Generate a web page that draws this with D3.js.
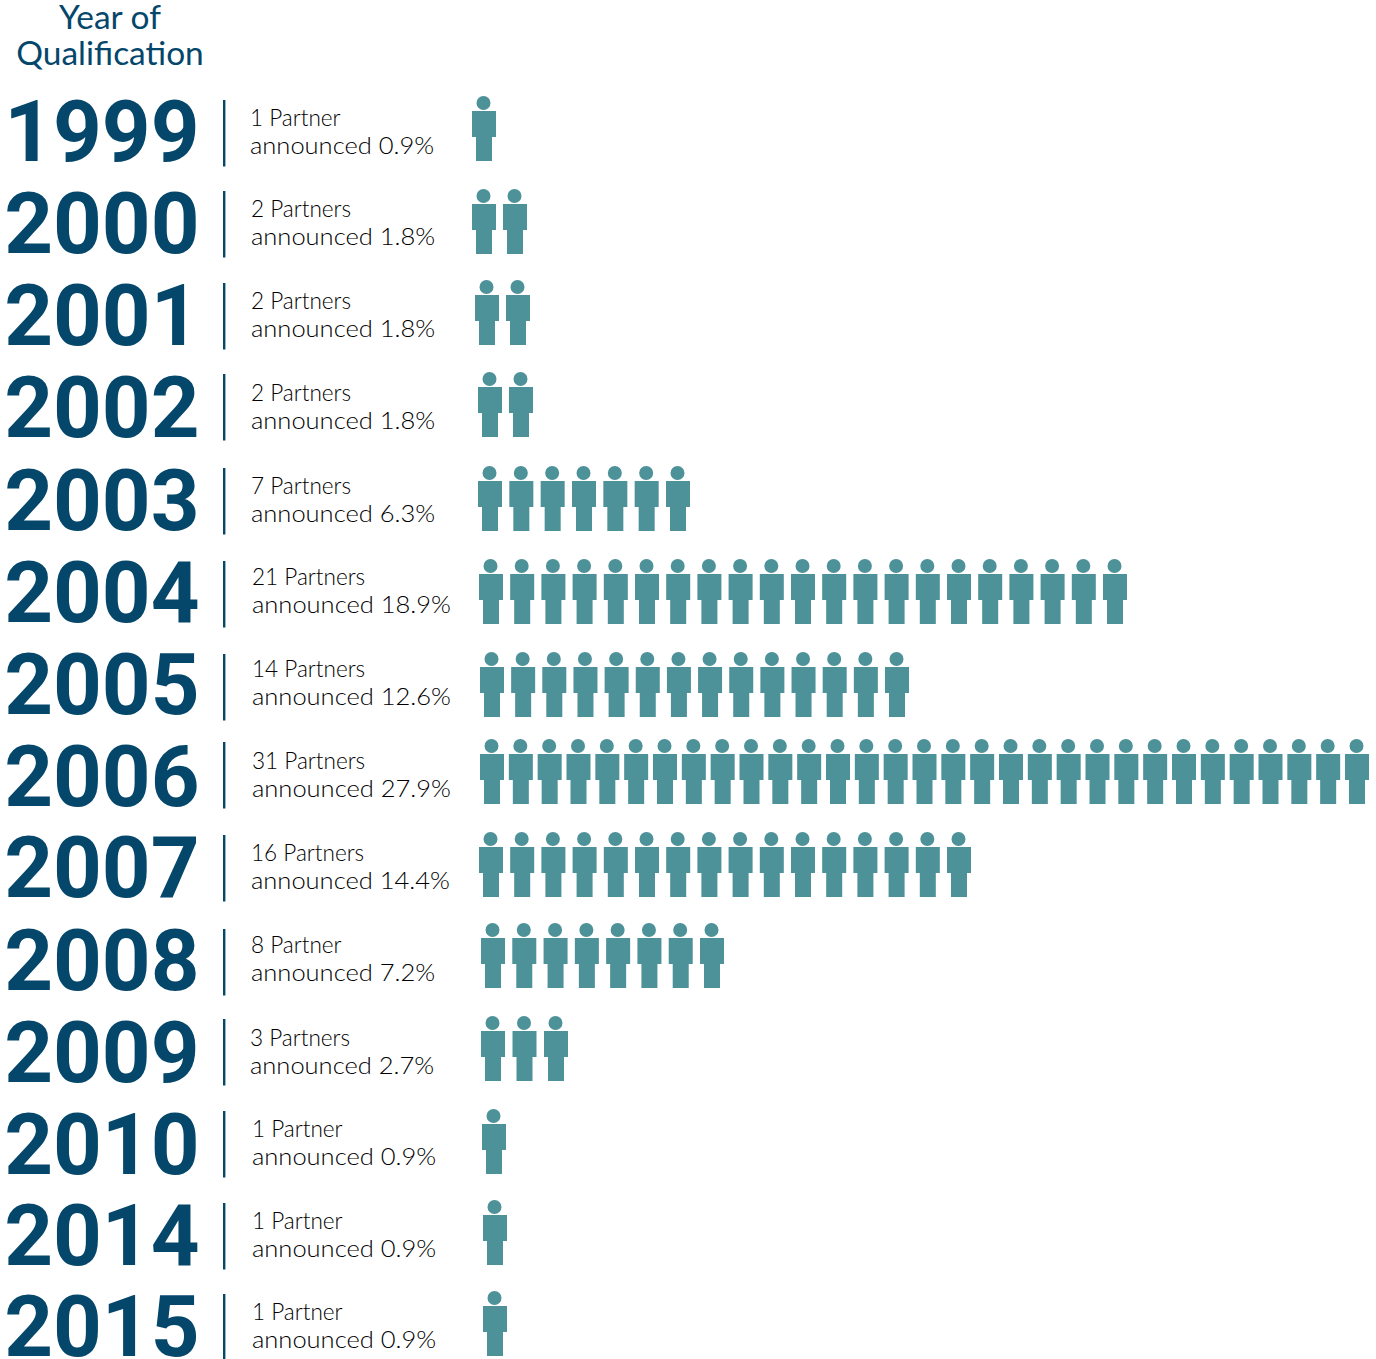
<!DOCTYPE html>
<html>
<head>
<meta charset="utf-8">
<script src="https://cdn.jsdelivr.net/npm/d3@7/dist/d3.min.js"></script>
<style>
html,body{margin:0;padding:0;background:#fff}
svg{display:block}
</style>
</head>
<body>
<svg id="chart" width="1376" height="1359"></svg>
<script>
// Qualification-year cohorts
const years = [1999,2000,2001,2002,2003,2004,2005,2006,2007,2008,2009,2010,2014,2015];
const partners = [1,2,2,2,7,21,14,31,16,8,3,1,1,1];
const shares = ["0.9","1.8","1.8","1.8","6.3","18.9","12.6","27.9","14.4","7.2","2.7","0.9","0.9","0.9"];
const partnerWords = ["Partner","Partners","Partners","Partners","Partners","Partners","Partners","Partners","Partners","Partner","Partners","Partner","Partner","Partner"];

// Hand-set row layout of the infographic
const rowBottoms = [161,254,345,437,531,624,717,804,897,988,1081,1174,1265,1356];
const rowFirstX = [472,472,475,478,478,479,480,480,479,481,481,482,483,483];
const rowLastX = [472,503,506,509,666,1103,885,1345,947,700,544,482,483,483];
const ruleTops = [100,191,283,374,468,561,654,742,835,929,1019,1111,1203,1294];
const yearBaselines = [161,253,345,437,530,622,714,806,897,990,1082,1174,1265,1356];
const textX = [250,251,251,251,251,252,252,252,251,251,250,252,252,252];
const textBaselines = [126,217,309,401,494,585,677,769,861,953,1046,1137,1229,1320];

const navy = "#05476b", teal = "#4d9199", ink = "#000";
const svg = d3.select("#chart");

svg.append("g").selectAll("text").data(["Year of","Qualification"]).join("text")
  .attr("transform",(d,i)=>`translate(110,${29+i*36}) scale(1.03,1)`)
  .attr("text-anchor","middle").attr("fill",navy)
  .attr("font-family","Lato").attr("font-size",32.5).text(d=>d);

const rows = svg.append("g").selectAll("g").data(years).join("g");

// Large year numerals
rows.append("text")
  .attr("transform",(d,i)=>`translate(199.5,${yearBaselines[i]}) scale(0.99,1)`)
  .attr("text-anchor","end").attr("fill",navy)
  .attr("font-family","Roboto").attr("font-weight",700).attr("font-size",86)
  .text(d=>d);

rows.append("rect")
  .attr("x",223).attr("width",2.4)
  .attr("y",(d,i)=>ruleTops[i]).attr("height",66.5)
  .attr("fill",navy);

// Two-line caption: partner count, then share announced
rows.append("text")
  .attr("transform",(d,i)=>`translate(${textX[i]},${textBaselines[i]}) scale(0.94,1)`)
  .attr("fill",ink).attr("font-family","Lato").attr("font-weight",300).attr("font-size",24)
  .text((d,i)=>`${partners[i]} ${partnerWords[i]}`);

rows.append("text")
  .attr("transform",(d,i)=>`translate(${textX[i]},${textBaselines[i]+28}) scale(1.063,1)`)
  .attr("fill",ink).attr("font-family","Lato").attr("font-weight",300).attr("font-size",24)
  .text((d,i)=>`announced ${shares[i]}%`);

// One pictogram per partner, spread evenly across the row
const figure = "M0 0H24V26H20V50H4V26H0Z";
rows.each(function(d,i){
  const x = d3.scaleLinear()
    .domain([0,Math.max(1,partners[i]-1)])
    .range([rowFirstX[i],rowLastX[i]]);
  const g = d3.select(this).append("g").attr("fill",teal);
  const people = g.selectAll("g").data(d3.range(partners[i])).join("g")
    .attr("transform",k=>`translate(${x(k)},${rowBottoms[i]-50})`);
  people.append("circle").attr("cx",11.5).attr("cy",-8).attr("r",7);
  people.append("path").attr("d",figure);
});
</script>
</body>
</html>
